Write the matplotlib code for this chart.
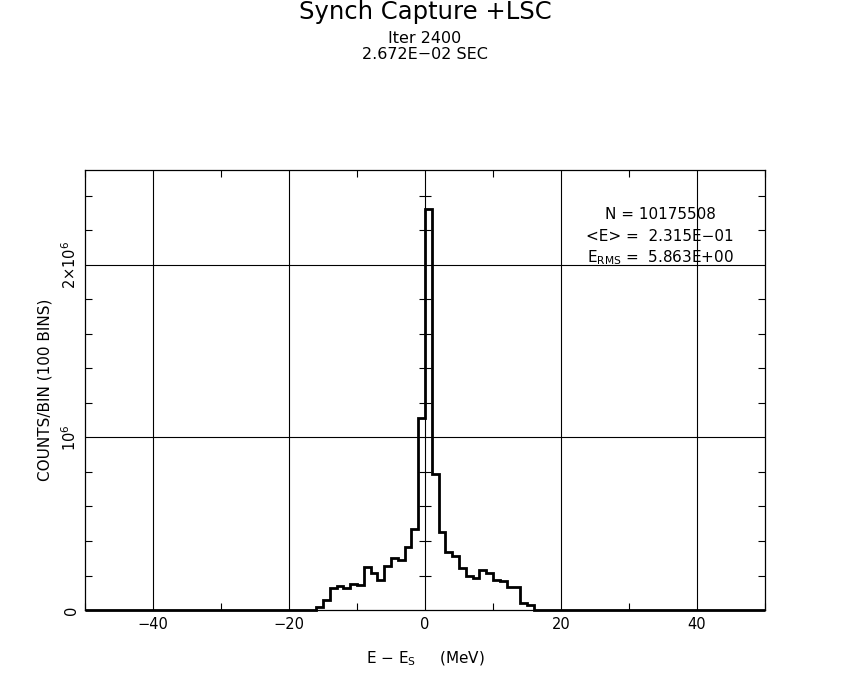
import numpy as np
import matplotlib
matplotlib.use("Agg")
import matplotlib.pyplot as plt
from matplotlib.ticker import MultipleLocator, FixedLocator, FixedFormatter

# ---- data ----
bin_edges = np.arange(-50, 51, 1)          # 100 bins, 1 MeV wide
first_bin = -16                            # lower edge of first non-empty bin
counts_nonzero = [
    0.015e6, 0.060e6, 0.126e6, 0.137e6, 0.128e6, 0.151e6, 0.145e6, 0.247e6,
    0.214e6, 0.174e6, 0.253e6, 0.300e6, 0.290e6, 0.363e6, 0.470e6, 1.113e6,
    2.325e6, 0.788e6, 0.450e6, 0.338e6, 0.311e6, 0.243e6, 0.199e6, 0.184e6,
    0.232e6, 0.214e6, 0.172e6, 0.168e6, 0.131e6, 0.131e6, 0.040e6, 0.031e6,
]
counts = np.zeros(len(bin_edges) - 1)
i0 = int(first_bin - bin_edges[0])
counts[i0:i0 + len(counts_nonzero)] = counts_nonzero

x_major = [-40, -20, 0, 20, 40]
x_labels = ["\u221240", "\u221220", "0", "20", "40"]
y_major = [0, 1e6, 2e6]
y_labels = ["0", r"$10^6$", r"$2{\times}10^6$"]
stats_lines = ["N = 10175508", "<E> =  2.315E\u221201", r"E$_{\rm RMS}$ =  5.863E+00"]
title = "Synch Capture +LSC"
sub1 = "Iter 2400"
sub2 = "2.672E\u221202 SEC"

# ---- figure ----
plt.rcParams['font.family'] = ['DejaVu Sans']
plt.rcParams['mathtext.fontset'] = 'dejavusans'
fig = plt.figure(figsize=(8.5, 6.8), dpi=100)
ax = fig.add_axes([0.1, 0.1029, 0.8, 0.6471])

ax.stairs(counts, bin_edges, color='black', linewidth=2.0, clip_on=False, zorder=3)

ax.set_xlim(-50, 50)
ax.set_ylim(0, 2.55e6)

# grid lines at major positions
for xv in x_major:
    ax.axvline(xv, color='black', linewidth=0.8, zorder=1)
for yv in y_major[1:]:
    ax.axhline(yv, color='black', linewidth=0.8, zorder=1)

ax.xaxis.set_major_locator(FixedLocator(x_major))
ax.xaxis.set_major_formatter(FixedFormatter(x_labels))
ax.xaxis.set_minor_locator(MultipleLocator(10))
ax.yaxis.set_major_locator(FixedLocator(y_major))
ax.yaxis.set_major_formatter(FixedFormatter(y_labels))
ax.yaxis.set_minor_locator(MultipleLocator(2e5))

ax.tick_params(which='both', direction='in', top=True, right=True, color='black')
ax.tick_params(which='major', length=0, labelsize=10.5)
ax.tick_params(axis='x', which='major', pad=5)
ax.tick_params(axis='y', which='major', pad=4)
ax.tick_params(which='minor', length=5, width=0.8)
for lab in ax.get_yticklabels():
    lab.set_rotation(90)
    lab.set_va('center')

# minor ticks crossing the x=0 grid line
minor_y = [v for v in np.arange(2e5, 2.55e6, 2e5) if abs(v % 1e6) > 1]
for yv in minor_y:
    ax.plot([0], [yv], marker='_', markersize=9, markeredgewidth=0.8,
            color='black', zorder=2)

for s in ax.spines.values():
    s.set_linewidth(0.9)

ax.set_xlabel(r"E $-$ E$_{\rm S}$     (MeV)", fontsize=11, labelpad=13)
ax.set_ylabel("COUNTS/BIN (100 BINS)", fontsize=11, labelpad=6)

ys = [0.898, 0.848, 0.800]
for txt, yy in zip(stats_lines, ys):
    ax.text(0.846, yy, txt, transform=ax.transAxes, ha='center', va='center',
            fontsize=11, zorder=4)

fig.text(0.5, 0.982, title, ha='center', va='center', fontsize=17.5)
fig.text(0.5, 0.944, sub1, ha='center', va='center', fontsize=11.5)
fig.text(0.5, 0.920, sub2, ha='center', va='center', fontsize=11.5)

fig.savefig("out.png", dpi=100)
